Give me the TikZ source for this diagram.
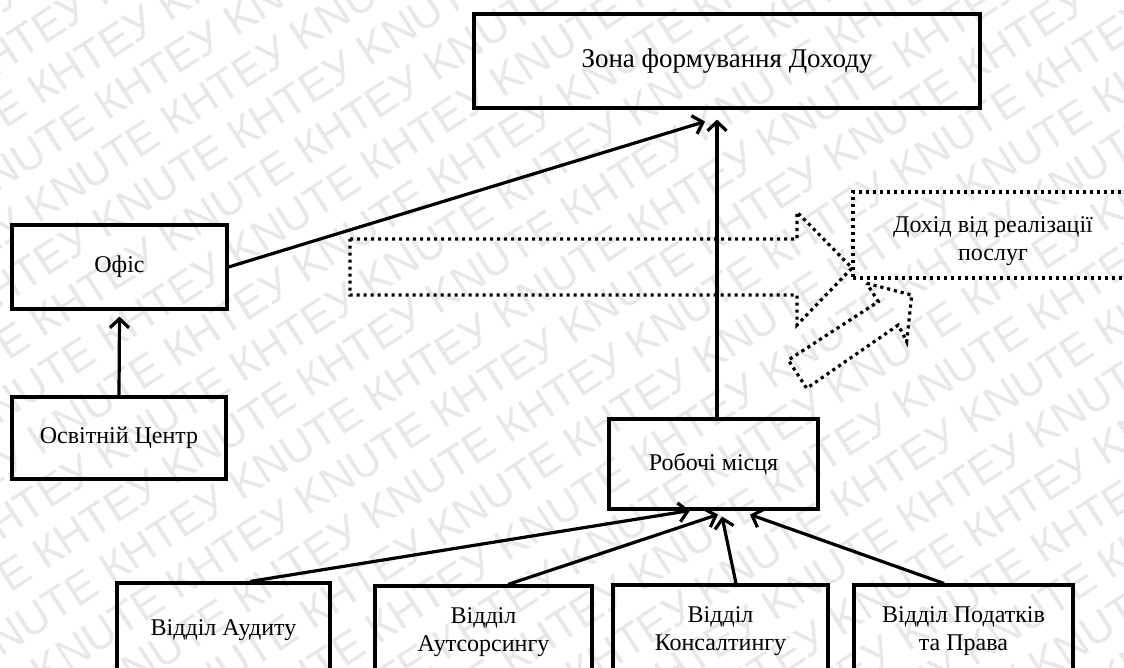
\documentclass[tikz,border=0pt]{standalone}
\usepackage{fontspec}
\setmainfont{Liberation Serif}
\newfontfamily\wmfont{Liberation Sans}
\usetikzlibrary{arrows.meta,calc}

\def\wmunit{КНТЕУ KNUTE }
\def\wmtext{\wmunit\wmunit\wmunit\wmunit\wmunit\wmunit\wmunit}

\begin{document}
\begin{tikzpicture}[x=1pt,y=-1pt,
  box/.style={draw, line width=3.1pt, align=center, inner sep=0pt,
              font=\fontsize{24}{28}\selectfont},
  dotbox/.style={box, dash pattern=on 3.2pt off 3.8pt},
  link/.style={line width=3.2pt, -{Straight Barb[length=9pt,width=19pt]}},
  blockarrow/.style={line width=3.2pt, dash pattern=on 3.2pt off 3.8pt},
  wm/.style={text=black!9, font=\wmfont\fontsize{44}{44}\selectfont,
             rotate=33, inner sep=0pt}
]
\useasboundingbox (0,0) rectangle (1124,668);
\clip (0,0) rectangle (1124,668);

% background watermark rows
\foreach \i in {-15,...,15}
  \node[wm] (wm\i) at (562+66.7*\i, 334+15.1*\i) {\wmtext};

% boxes
\node[box, minimum width=506pt, minimum height=94pt, font=\fontsize{27}{30}\selectfont]
  (zona) at (727,61) {Зона формування Доходу};
\node[box, minimum width=215pt, minimum height=84pt] (ofis) at (119.5,267) {Офіс};
\node[box, minimum width=214pt, minimum height=82pt] (osvita) at (119,438) {Освітній Центр};
\node[box, minimum width=209pt, minimum height=90pt] (robochi) at (713.5,464) {Робочі місця};
\node[box, minimum width=213pt, minimum height=94pt] (audyt) at (223.5,630) {Відділ Аудиту};
\node[box, minimum width=217pt, minimum height=92pt] (autsors) at (483.5,632) {Відділ\\Аутсорсингу};
\node[box, minimum width=215pt, minimum height=92pt] (konsalt) at (720.5,631) {Відділ\\Консалтингу};
\node[box, minimum width=219pt, minimum height=92pt] (podatky) at (963.5,631) {Відділ Податків\\та Права};
\node[dotbox, minimum width=280pt, minimum height=86pt] (dokhid) at (993,235)
  {\raisebox{-6pt}[\height][\depth]{\begin{tabular}{@{}c@{}}Дохід від реалізації\\послуг\end{tabular}}};

% arrow ends just below the target boxes
\coordinate (zin1) at ($(zona.south)+(-22,12)$);
\coordinate (zin2) at ($(zona.south)+(-10,10)$);
\coordinate (rin1) at ($(robochi.south)+(-23.5,0)$);
\coordinate (rin2) at ($(robochi.south)+(4.5,4)$);
\coordinate (rin3) at ($(robochi.south)+(8.5,6)$);
\coordinate (rin4) at ($(robochi.south)+(36.5,4)$);
\coordinate (oin) at ($(ofis.south)+(0,6)$);

% connectors
\draw[link] (osvita.north) -- (oin);
\draw[link] (ofis.east) -- (zin1);
\draw[link] (robochi.north -| zin2) -- (zin2);
\draw[link] ($(audyt.north)+(26.5,0)$) -- (rin1);
\draw[link] ($(autsors.north)+(24.5,0)$) -- (rin2);
\draw[link] ($(konsalt.north)+(15.5,0)$) -- (rin3);
\draw[link] ($(podatky.north)+(-19.5,0)$) -- (rin4);

% dotted block arrows towards the income box
\draw[blockarrow] (350,239) -- (797,239) -- (797,212) -- (852,268) -- (797,325)
  -- (797,295) -- (350,295) -- cycle;
\draw[blockarrow] (866.7,283.3) -- (911.7,295) -- (906.7,341.7) -- (898.3,325)
  -- (806.7,388.3) -- (788.3,360) -- (878.3,301.7) -- cycle;
\end{tikzpicture}
\end{document}
